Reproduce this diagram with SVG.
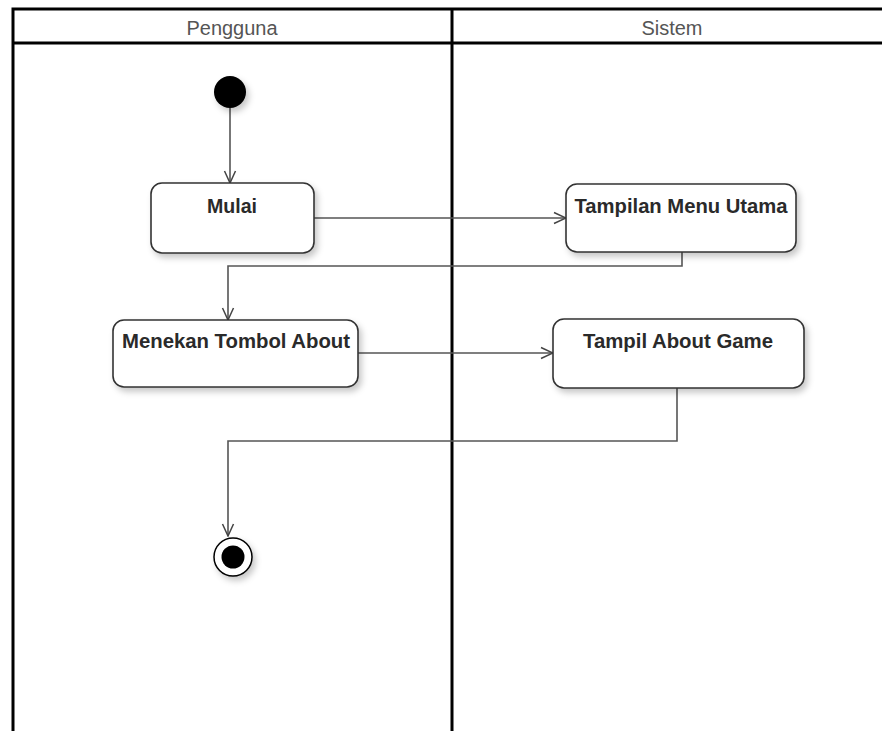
<svg xmlns="http://www.w3.org/2000/svg" width="882" height="731" viewBox="0 0 882 731">
  <defs>
    <filter id="shadow" x="-20%" y="-20%" width="150%" height="160%">
      <feDropShadow dx="3" dy="4" stdDeviation="3" flood-color="#000" flood-opacity="0.22"/>
    </filter>
    <marker id="open" viewBox="0 0 14 14" refX="13" refY="7" markerWidth="14" markerHeight="14" markerUnits="userSpaceOnUse" orient="auto">
      <path d="M1,1.5 L13,7 L1,12.5" fill="none" stroke="#444" stroke-width="1.5"/>
    </marker>
    <style>
      .lane { fill: none; stroke: #000; stroke-width: 3; }
      .head { font-family: "Liberation Sans", Arial, sans-serif; font-size: 20px; fill: #555; text-anchor: middle; }
      .box { fill: #fff; stroke: #333; stroke-width: 1.6; filter: url(#shadow); }
      .lbl { font-family: "Liberation Sans", Arial, sans-serif; font-size: 21px; font-weight: bold; fill: #2a2a2a; text-anchor: middle; }
      .edge { fill: none; stroke: #555; stroke-width: 1.6; marker-end: url(#open); }
    </style>
  </defs>
  <rect width="882" height="731" fill="#fff"/>

  <!-- swimlanes -->
  <g id="lanes">
    <path class="lane" d="M13,731 V9 H882 M13,43 H882 M452,9 V731"/>
    <text class="head" x="232" y="35" textLength="91" lengthAdjust="spacingAndGlyphs">Pengguna</text>
    <text class="head" x="672" y="35" textLength="61" lengthAdjust="spacingAndGlyphs">Sistem</text>
  </g>

  <!-- connectors -->
  <g id="connectors">
    <path class="edge" d="M230,108 V183"/>
    <path class="edge" d="M314,218 H566"/>
    <path class="edge" d="M682,252 V266 H228 V320"/>
    <path class="edge" d="M358,353 H553"/>
    <path class="edge" d="M677,388 V441 H228 V536"/>
  </g>

  <g id="start">
    <circle cx="230" cy="92" r="16" fill="#000" filter="url(#shadow)"/>
  </g>

  <g id="mulai">
    <rect class="box" x="151" y="183" width="163" height="70" rx="11"/>
    <text class="lbl" x="232" y="213" textLength="50" lengthAdjust="spacingAndGlyphs">Mulai</text>
  </g>

  <g id="menu-utama">
    <rect class="box" x="566" y="184" width="230" height="68" rx="11"/>
    <text class="lbl" x="681" y="213" textLength="213" lengthAdjust="spacingAndGlyphs">Tampilan Menu Utama</text>
  </g>

  <g id="tombol-about">
    <rect class="box" x="113" y="320" width="245" height="67" rx="11"/>
    <text class="lbl" x="236" y="348" textLength="228" lengthAdjust="spacingAndGlyphs">Menekan Tombol About</text>
  </g>

  <g id="about-game">
    <rect class="box" x="553" y="319" width="251" height="69" rx="11"/>
    <text class="lbl" x="678" y="348" textLength="190" lengthAdjust="spacingAndGlyphs">Tampil About Game</text>
  </g>

  <g id="end">
    <circle cx="233" cy="557" r="19" fill="#fff" stroke="#000" stroke-width="1.5" filter="url(#shadow)"/>
    <circle cx="233" cy="557" r="11.5" fill="#000"/>
  </g>
</svg>
